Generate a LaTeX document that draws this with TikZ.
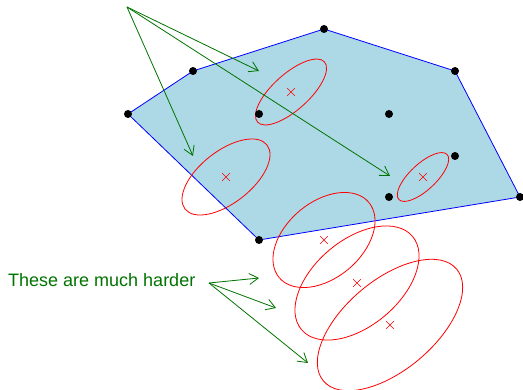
\documentclass[tikz,border=0pt]{standalone}
\usepackage{fontspec}
\setmainfont{Liberation Sans}
\usetikzlibrary{arrows.meta,shapes.geometric,shapes.misc}

\definecolor{hullfill}{RGB}{173,216,230}
\definecolor{notegreen}{RGB}{0,115,0}

\tikzset{
  pt/.style={circle,fill=black,inner sep=0pt,minimum size=8pt},
  mean/.style={cross out,draw=red,inner sep=0pt,minimum size=7pt,line width=0.6pt},
  blob/.style={ellipse,draw=red,line width=0.8pt,inner sep=0pt},
  pointer/.style={draw=notegreen,line width=0.8pt,-{Straight Barb[length=9pt,width=11pt]}},
}

\begin{document}
\begin{tikzpicture}[x=1pt,y=1pt]

  \useasboundingbox (0,0) rectangle (523,-390);

  % hull corners
  \coordinate (p1) at (128,-114);
  \coordinate (p2) at (193,-71);
  \coordinate (p3) at (324,-29);
  \coordinate (p4) at (455,-71);
  \coordinate (p5) at (520,-197);
  \coordinate (p6) at (259,-240);
  % points inside
  \coordinate (q1) at (259,-114);
  \coordinate (q2) at (389,-114);
  \coordinate (q3) at (455,-156);
  \coordinate (q4) at (389,-197);

  % hull
  \fill[hullfill] (p1) -- (p2) -- (p3) -- (p4) -- (p5) -- (p6) -- cycle;
  \draw[blue,line width=0.8pt] (p1) -- (p2) -- (p3) -- (p4) -- (p5) -- (p6) -- cycle;

  % ellipses and their centres
  \node[blob,rotate=42,minimum width=90pt,minimum height=36pt] (e1) at (291,-92) {};
  \node[mean] (m1) at (e1) {};
  \node[blob,rotate=38,minimum width=104pt,minimum height=52pt] (e2) at (226,-177) {};
  \node[mean] (m2) at (e2) {};
  \node[blob,rotate=43,minimum width=66pt,minimum height=26pt] (e3) at (423,-177) {};
  \node[mean] (m3) at (e3) {};
  \node[blob,rotate=40,minimum width=117pt,minimum height=76pt] (e4) at (324,-240) {};
  \node[mean] (m4) at (e4) {};
  \node[blob,rotate=40,minimum width=145pt,minimum height=86pt] (e5) at (357,-283) {};
  \node[mean] (m5) at (e5) {};
  \node[blob,rotate=40,minimum width=174pt,minimum height=90pt] (e6) at (390,-325) {};
  \node[mean] (m6) at (e6) {};

  % data points
  \foreach \p in {p1,p2,p3,p4,p5,p6,q1,q2,q3,q4}
    \node[pt] at (\p) {};

  % easy ones
  \coordinate (easysrc) at (127,-7);
  \coordinate (t1) at (259,-71);
  \coordinate (t2) at (193,-156);
  \coordinate (t3) at (390,-176);
  \draw[pointer] (easysrc) -- (t1);
  \draw[pointer] (easysrc) -- (t2);
  \draw[pointer] (easysrc) -- (t3);

  % hard ones
  \node[anchor=west,inner sep=0pt,text=notegreen,font=\fontsize{18}{21}\selectfont] (hard) at (8,-280) {These are much harder};
  \coordinate (hardsrc) at (209,-283);
  \coordinate (h1) at (259,-278);
  \coordinate (h2) at (276,-308);
  \coordinate (h3) at (308,-363);
  \draw[pointer] (hardsrc) -- (h1);
  \draw[pointer] (hardsrc) -- (h2);
  \draw[pointer] (hardsrc) -- (h3);

\end{tikzpicture}
\end{document}
